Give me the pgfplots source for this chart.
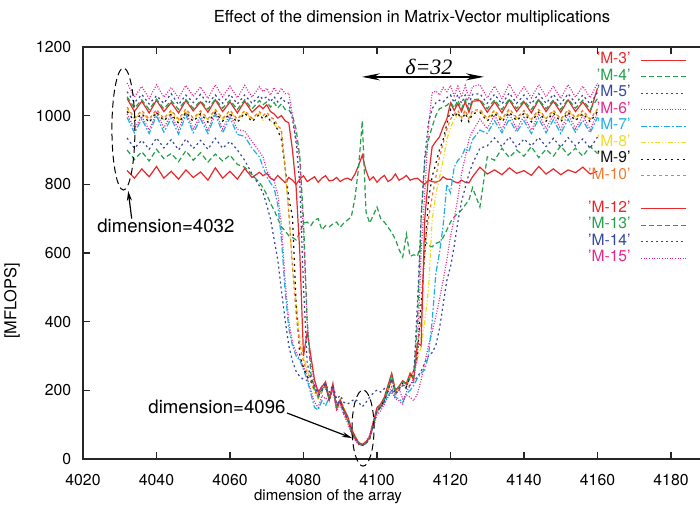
\documentclass[border=0pt]{standalone}
\usepackage{fontspec}
\setmainfont{TeX Gyre Heros}
\newfontfamily\timesf{Liberation Serif}
\usepackage{pgfplots}
\usepackage{pgfplotstable}
\pgfplotsset{compat=1.18}
\usetikzlibrary{arrows.meta}

\definecolor{cR}{HTML}{E8282A}
\definecolor{cG}{HTML}{22A04A}
\definecolor{cB}{HTML}{36479F}
\definecolor{cP}{HTML}{E8268C}
\definecolor{cC}{HTML}{20AEE8}
\definecolor{cY}{HTML}{EEDC1E}
\definecolor{cK}{HTML}{111111}
\definecolor{cO}{HTML}{F07A30}

\pgfplotsset{
  sR/.style={cR, solid},
  sG/.style={cG, dash pattern=on 2.5pt off 1.5pt},
  sB/.style={cB, dash pattern=on 1pt off 1.5pt},
  sP/.style={cP, dash pattern=on 0.5pt off 0.8pt},
  sC/.style={cC, dash pattern=on 3pt off 1pt on 0.8pt off 1pt},
  sY/.style={cY, dash pattern=on 2.5pt off 1pt on 0.6pt off 1pt on 0.6pt off 1pt},
  sK/.style={cK, dash pattern=on 1pt off 2pt},
  sO/.style={cO, dash pattern=on 1.5pt off 1.5pt},
}

% MFLOPS per array dimension, one column per matrix
\pgfplotstableread{
x    M3  M4  M5  M6   M7   M8   M9   M10  M12  M13  M14  M15
4032 840 900 935 1005 995  1020 1012 1025 1050 1055 1070 1095
4034 818 872 905 962  950  990  984  994  1012 1022 1038 1055
4036 845 895 928 998  990  1010 1006 1015 1042 1046 1062 1085
4038 822 868 902 958  948  986  980  990  1008 1018 1034 1050
4040 852 902 935 1008 1000 1015 1010 1018 1045 1048 1058 1090
4042 818 875 906 965  952  988  985  992  1012 1020 1036 1054
4044 838 890 930 1002 992  1012 1005 1016 1038 1044 1064 1082
4046 815 866 900 960  946  985  978  990  1008 1018 1032 1052
4048 842 898 932 1010 1002 1014 1010 1020 1044 1047 1060 1088
4050 820 870 904 962  950  990  983  993  1014 1021 1038 1056
4052 836 892 928 1000 990  1010 1006 1014 1040 1043 1062 1084
4054 812 865 902 958  948  988  981  991  1010 1019 1035 1050
4056 848 888 934 1012 1004 1016 1009 1018 1046 1048 1060 1090
4058 818 868 905 962  950  989  984  992  1012 1022 1036 1055
4060 838 885 925 1004 994  1012 1006 1016 1040 1045 1062 1086
4062 815 858 900 960  945  986  980  990  1008 1018 1034 1052
4064 846 850 870 955  940  1012 1008 1015 1042 1046 1060 1088
4066 820 828 830 925  905  988  982  992  1010 1020 1036 1054
4068 835 805 795 895  880  1008 1004 1012 1030 1044 1058 1084
4069 825 790 775 880  850  987  990  1000 1020 1032 1048 1070
4070 832 770 740 840  822  1000 1000 1010 1032 1040 1055 1080
4071 818 745 700 820  804  985  985  995  1012 1025 1040 1060
4072 812 725 640 810  790  975  980  990  1005 1038 1055 1082
4073 826 700 580 770  740  960  958  970  993  1022 1040 1062
4074 815 676 490 680  640  950  930  960  1000 1035 1052 1080
4075 805 665 405 520  490  842  850  850  985  1018 1040 1064
4076 820 650 330 400  380  716  760  720  979  1017 1037 1066
4077 812 645 285 340  330  560  705  560  900  1000 990  1000
4078 800 638 255 310  300  455  450  420  790  960  920  930
4079 815 660 240 290  288  350  300  330  600  880  800  870
4080 825 687 232 270  260  300  265  285  300  696  500  650
4081 808 690 228 240  230  260  240  250  370  400  280  400
4082 815 680 225 200  190  232  228  235  300  250  235  280
4083 822 696 215 165  150  190  200  205  230  205  210  220
4084 806 700 200 150  143  175  182  178  195  180  190  190
4085 818 667 210 185  170  200  205  195  210  205  198  212
4086 825 680 220 175  155  215  212  218  225  210  222  205
4087 810 676 195 185  180  180  175  170  172  178  168  185
4088 812 685 215 200  205  210  205  210  220  208  215  200
4089 820 690 175 160  150  150  155  145  148  152  160  140
4090 808 675 185 170  165  175  165  168  172  160  170  158
4091 815 688 165 140  135  150  140  130  145  138  135  128
4092 818 696 160 120  115  120  118  112  125  118  115  105
4093 812 705 168 88   85   90   82   80   90   84   80   75
4094 830 760 175 65   60   68   58   62   66   60   58   55
4095 855 850 165 48   45   50   46   48   48   45   44   42
4096 885 985 152 42   40   44   40   42   42   40   40   38
4097 840 720 165 48   52   46   48   45   50   46   45   45
4098 812 687 180 70   62   60   58   55   64   62   60   66
4099 822 710 192 110  95   100  105  98   108  102  100  90
4100 806 734 201 135  140  145  138  142  150  145  140  128
4101 818 700 195 150  150  155  152  148  160  155  150  140
4102 826 690 205 175  165  178  172  170  180  175  168  160
4103 808 675 210 195  185  205  200  200  215  205  198  180
4104 815 660 200 210  200  240  235  230  250  245  232  195
4105 830 640 190 185  180  195  192  190  200  198  190  175
4106 812 610 200 205  175  210  208  205  212  210  205  170
4107 818 588 215 175  165  225  222  215  228  225  215  160
4108 826 655 205 185  190  215  210  212  220  218  212  195
4109 812 590 215 180  200  235  240  238  250  245  238  215
4110 816 595 225 170  215  260  255  258  230  240  250  235
4111 818 590 240 190  235  290  300  330  338  400  450  300
4112 808 629 255 230  250  326  450  400  330  700  700  600
4113 800 635 280 280  260  400  600  618  700  871  880  775
4114 812 622 300 330  300  492  754  700  822  930  980  967
4115 808 618 310 370  400  696  822  763  909  967  1020 1066
4116 806 628 330 414  540  770  860  820  925  1000 1037 1072
4117 810 632 380 465  600  820  900  880  938  1020 1045 1060
4118 822 645 450 520  680  871  930  920  967  1025 1040 1082
4119 815 667 520 580  800  930  975  960  990  1030 1052 1070
4120 815 690 560 650  775  967  1017 990  1037 1040 1060 1088
4121 808 705 620 700  850  987  995  1005 1015 1022 1038 1058
4122 804 716 690 760  870  1005 1010 1015 1035 1045 1062 1086
4123 812 725 750 830  880  990  985  995  1012 1020 1036 1054
4124 806 740 790 880  905  1012 1008 1016 1040 1046 1060 1088
4125 804 754 830 930  895  988  982  992  1010 1019 1034 1052
4126 822 790 860 955  930  1010 1006 1015 1042 1047 1062 1085
4128 850 734 905 990  958  1014 1010 1018 1044 1048 1064 1090
4130 830 880 912 962  948  990  984  992  1010 1020 1036 1052
4132 842 870 935 1002 985  1012 1008 1016 1040 1046 1062 1086
4134 828 905 910 960  950  988  982  990  1008 1018 1034 1050
4136 848 878 938 1005 990  1015 1010 1020 1046 1049 1066 1092
4138 832 900 908 962  952  990  985  994  1012 1021 1036 1054
4140 840 882 932 998  985  1010 1006 1015 1040 1044 1060 1084
4142 826 910 912 958  948  987  982  990  1008 1018 1034 1052
4144 852 878 936 1006 992  1014 1010 1018 1046 1048 1064 1090
4146 830 902 910 962  950  990  984  992  1012 1020 1036 1055
4148 845 882 934 1002 988  1012 1008 1016 1042 1046 1062 1086
4150 828 912 908 960  948  988  982  990  1010 1018 1034 1050
4152 842 885 936 1006 990  1015 1010 1018 1046 1048 1064 1090
4154 834 905 912 962  952  990  985  994  1012 1022 1036 1054
4156 850 882 932 1000 986  1012 1006 1015 1040 1045 1060 1086
4158 830 910 905 960  950  988  982  990  1010 1018 1034 1052
4160 838 890 938 1008 995  1018 1012 1020 1080 1050 1068 1095
}\data

\begin{document}
\begin{tikzpicture}
\begin{axis}[
  name=ax,
  scale only axis,
  width=330.75pt, height=206pt,
  xmin=4020, xmax=4200, ymin=0, ymax=1200,
  xtick={4020,4040,...,4180},
  ytick={0,200,...,1200},
  tick align=inside,
  major tick length=3.5pt,
  axis line style={black!85, line width=0.8pt},
  every tick/.style={black!85, line width=0.6pt},
  /pgf/number format/assume math mode=true,
  /pgf/number format/1000 sep={},
  xticklabel style={font=\fontsize{7.9}{9}\selectfont, yshift=-4pt},
  yticklabel style={font=\fontsize{7.9}{9}\selectfont, xshift=-2.4pt},
  clip=false,
  no markers,
  every axis plot/.append style={line width=0.6pt},
  legend plot pos=right,
  legend cell align=right,
  legend image code/.code={\draw[#1] (0pt,0pt) -- (22.5pt,0pt);},
  legend style={at={(axis cs:4184.4,1200)}, anchor=north east, yshift=-2.3pt,
    draw=none, fill=none, inner sep=0pt, row sep=0pt, column sep=5pt,
    font=\fontsize{7.8}{9}\selectfont,
    nodes={inner sep=0pt, text height=6pt, text depth=2.25pt}},
]
\addplot[sR] table[x=x, y=M3] {\data};
\addlegendentry{\textcolor{cR}{'M-3'}}
\addplot[sG] table[x=x, y=M4] {\data};
\addlegendentry{\textcolor{cG}{'M-4'}}
\addplot[sB] table[x=x, y=M5] {\data};
\addlegendentry{\textcolor{cB}{'M-5'}}
\addplot[sP] table[x=x, y=M6] {\data};
\addlegendentry{\textcolor{cP}{'M-6'}}
\addplot[sC] table[x=x, y=M7] {\data};
\addlegendentry{\textcolor{cC}{'M-7'}}
\addplot[sY] table[x=x, y=M8] {\data};
\addlegendentry{\textcolor{cY}{'M-8'}}
\addplot[sK] table[x=x, y=M9] {\data};
\addlegendentry{\textcolor{cK}{'M-9'}}
\addplot[sO] table[x=x, y=M10] {\data};
\addlegendentry{\textcolor{cO}{'M-10'}}
\addlegendimage{empty legend}
\addlegendentry{}
\addplot[sR] table[x=x, y=M12] {\data};
\addlegendentry{\textcolor{cR}{'M-12'}}
\addplot[sG] table[x=x, y=M13] {\data};
\addlegendentry{\textcolor{cG}{'M-13'}}
\addplot[sB] table[x=x, y=M14] {\data};
\addlegendentry{\textcolor{cB}{'M-14'}}
\addplot[sP] table[x=x, y=M15] {\data};
\addlegendentry{\textcolor{cP}{'M-15'}}

% annotations
\draw[black, line width=0.5pt, dash pattern=on 3.5pt off 2pt]
  (axis cs:4031,961) ellipse [x radius=5.75pt, y radius=30.5pt];
\draw[black, line width=0.6pt, -{Stealth[length=5pt,width=2.5pt]}]
  (axis cs:4033.25,700) -- (axis cs:4032.3,781);
\node[anchor=west, inner sep=0pt, font=\fontsize{9.3}{11}\selectfont]
  at (axis cs:4023.8,679) {dimension=4032};
\draw[black, line width=0.5pt, dash pattern=on 3.5pt off 2pt]
  (axis cs:4096.2,90) ellipse [x radius=5.5pt, y radius=19pt];
\draw[black, line width=0.6pt, -{Stealth[length=5pt,width=2.5pt]}]
  (axis cs:4075.5,134) -- (axis cs:4093.2,61);
\node[anchor=west, inner sep=0pt, font=\fontsize{9.3}{11}\selectfont]
  at (axis cs:4037.7,151) {dimension=4096};
\draw[black, line width=0.7pt, {Stealth[length=9pt,width=3.5pt]}-{Stealth[length=9pt,width=3.5pt]}]
  (axis cs:4095.9,1113) -- (axis cs:4129.1,1113);
\node[anchor=base, inner sep=0pt, font=\fontsize{11}{13}\selectfont\timesf\itshape]
  at (axis cs:4114.1,1120) {δ=32};

% titles
\node[font=\fontsize{8.3}{10}\selectfont] at (axis description cs:0.4974,1.0704)
  {Effect of the dimension in Matrix-Vector multiplications};
\node[font=\fontsize{7.5}{9}\selectfont] at (axis description cs:0.3704,-0.0922)
  {dimension of the array};
\node[rotate=90, font=\fontsize{8.2}{10}\selectfont] at (axis description cs:-0.1073,0.3835)
  {[MFLOPS]};
\end{axis}
\pgfresetboundingbox
\path[use as bounding box] ([shift={(-41.5pt,-23.5pt)}]ax.south west)
  rectangle ([shift={(308.5pt,23.5pt)}]ax.north west);
\end{tikzpicture}
\end{document}
